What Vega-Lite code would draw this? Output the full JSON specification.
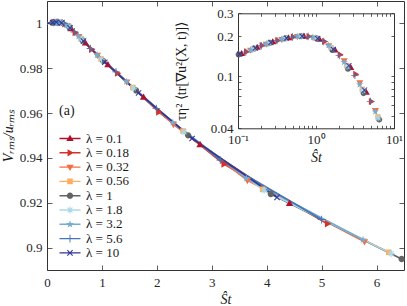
{
  "$schema": "https://vega.github.io/schema/vega-lite/v6.json",
  "width": 357,
  "height": 269,
  "autosize": "none",
  "padding": {"left": 47, "top": 1, "right": 3, "bottom": 36},
  "background": "white",
  "config": {
    "view": {"stroke": "#333333", "strokeWidth": 1},
    "font": "Liberation Serif",
    "axis": {"grid": false, "domainColor": "#333333", "tickColor": "#333333", "labelColor": "#262626", "titleColor": "#1a1a1a", "labelFont": "Liberation Serif", "titleFont": "Liberation Serif", "labelFontSize": 13, "titleFontSize": 14, "titleFontWeight": "normal", "labelFlush": false, "labelOverlap": false, "tickWidth": 0.8},
    "range": {
      "category": ["#b0102b", "#d73027", "#f46d43", "#fdae61", "#636363", "#abd9e9", "#74add1", "#4575b4", "#313695"],
      "symbol": [
        "M0,-1.1L1.05,0.7L-1.05,0.7Z",
        "M1.1,0L-0.7,1.05L-0.7,-1.05Z",
        "M0,1.1L-1.05,-0.7L1.05,-0.7Z",
        "M-0.8,-0.8H0.8V0.8H-0.8Z",
        "M-0.9,0A0.9,0.9,0,1,1,0.9,0A0.9,0.9,0,1,1,-0.9,0Z",
        "M-1,-0.15H1V0.15H-1Z M-0.15,-1H0.15V1H-0.15Z M-0.59,-0.81L0.81,0.59L0.59,0.81L-0.81,-0.59Z M-0.81,0.59L0.59,-0.81L0.81,-0.59L-0.59,0.81Z",
        "M0,-1.15L0.27,-0.37L1.09,-0.36L0.44,0.14L0.68,0.93L0,0.46L-0.68,0.93L-0.44,0.14L-1.09,-0.36L-0.27,-0.37Z",
        "M-1.1,-0.13H1.1V0.13H-1.1Z M-0.13,-1.1H0.13V1.1H-0.13Z",
        "M-0.654,-0.866L0.866,0.654L0.654,0.866L-0.866,-0.654Z M-0.866,0.654L0.654,-0.866L0.866,-0.654L-0.654,0.866Z"
      ]
    }
  },
  "datasets": {
    "d": [
      {"s": "λ = 0.1", "St": 0, "V": 1},
      {"s": "λ = 0.1", "St": 0.111, "V": 1.0004, "G": 0.148},
      {"s": "λ = 0.1", "St": 0.176, "V": 1.0005, "G": 0.165},
      {"s": "λ = 0.1", "St": 0.279, "V": 1.0002, "G": 0.182},
      {"s": "λ = 0.1", "St": 0.442, "V": 0.9976, "G": 0.195},
      {"s": "λ = 0.1", "St": 0.7, "V": 0.9912, "G": 0.2005},
      {"s": "λ = 0.1", "St": 1.109, "V": 0.9815, "G": 0.1896},
      {"s": "λ = 0.1", "St": 1.758, "V": 0.967, "G": 0.157},
      {"s": "λ = 0.1", "St": 2.786, "V": 0.9459, "G": 0.116},
      {"s": "λ = 0.1", "St": 4.416, "V": 0.9196, "G": 0.075},
      {"s": "λ = 0.18", "St": 0, "V": 1},
      {"s": "λ = 0.18", "St": 0.128, "V": 1.0004, "G": 0.1527},
      {"s": "λ = 0.18", "St": 0.203, "V": 1.0005, "G": 0.1706},
      {"s": "λ = 0.18", "St": 0.322, "V": 0.9998, "G": 0.1866},
      {"s": "λ = 0.18", "St": 0.511, "V": 0.9959, "G": 0.1982},
      {"s": "λ = 0.18", "St": 0.81, "V": 0.9884, "G": 0.1996},
      {"s": "λ = 0.18", "St": 1.282, "V": 0.9778, "G": 0.183},
      {"s": "λ = 0.18", "St": 2.032, "V": 0.9605, "G": 0.1452},
      {"s": "λ = 0.18", "St": 3.221, "V": 0.9373, "G": 0.1031},
      {"s": "λ = 0.18", "St": 5.105, "V": 0.9106, "G": 0.0639},
      {"s": "λ = 0.32", "St": 0, "V": 1},
      {"s": "λ = 0.32", "St": 0.145, "V": 1.0004, "G": 0.1576},
      {"s": "λ = 0.32", "St": 0.23, "V": 1.0004, "G": 0.175},
      {"s": "λ = 0.32", "St": 0.365, "V": 0.9991, "G": 0.1903},
      {"s": "λ = 0.32", "St": 0.578, "V": 0.9942, "G": 0.1999},
      {"s": "λ = 0.32", "St": 0.916, "V": 0.9858, "G": 0.1969},
      {"s": "λ = 0.32", "St": 1.452, "V": 0.9739, "G": 0.1706},
      {"s": "λ = 0.32", "St": 2.301, "V": 0.955, "G": 0.1308},
      {"s": "λ = 0.32", "St": 3.648, "V": 0.93, "G": 0.089},
      {"s": "λ = 0.32", "St": 5.781, "V": 0.9026, "G": 0.0549},
      {"s": "λ = 0.56", "St": 0, "V": 1},
      {"s": "λ = 0.56", "St": 0.156, "V": 1.0004, "G": 0.1605},
      {"s": "λ = 0.56", "St": 0.248, "V": 1.0003, "G": 0.1775},
      {"s": "λ = 0.56", "St": 0.393, "V": 0.9987, "G": 0.1926},
      {"s": "λ = 0.56", "St": 0.622, "V": 0.9931, "G": 0.2008},
      {"s": "λ = 0.56", "St": 0.986, "V": 0.9841, "G": 0.1953},
      {"s": "λ = 0.56", "St": 1.563, "V": 0.9714, "G": 0.1642},
      {"s": "λ = 0.56", "St": 2.477, "V": 0.952, "G": 0.1203},
      {"s": "λ = 0.56", "St": 3.926, "V": 0.926, "G": 0.0792},
      {"s": "λ = 0.56", "St": 6.223, "V": 0.8979, "G": 0.0488},
      {"s": "λ = 1", "St": 0, "V": 1},
      {"s": "λ = 1", "St": 0.102, "V": 1.0004, "G": 0.1457},
      {"s": "λ = 1", "St": 0.162, "V": 1.0005, "G": 0.1619},
      {"s": "λ = 1", "St": 0.257, "V": 1.0003, "G": 0.1788},
      {"s": "λ = 1", "St": 0.407, "V": 0.9984, "G": 0.1935},
      {"s": "λ = 1", "St": 0.646, "V": 0.9925, "G": 0.2009},
      {"s": "λ = 1", "St": 1.023, "V": 0.9833, "G": 0.1938},
      {"s": "λ = 1", "St": 1.622, "V": 0.9701, "G": 0.1575},
      {"s": "λ = 1", "St": 2.57, "V": 0.9501, "G": 0.1134},
      {"s": "λ = 1", "St": 4.074, "V": 0.9239, "G": 0.0741},
      {"s": "λ = 1", "St": 6.457, "V": 0.8949, "G": 0.0466},
      {"s": "λ = 1.8", "St": 0, "V": 1},
      {"s": "λ = 1.8", "St": 0.157, "V": 1.0004, "G": 0.1607},
      {"s": "λ = 1.8", "St": 0.249, "V": 1.0003, "G": 0.1778},
      {"s": "λ = 1.8", "St": 0.395, "V": 0.9987, "G": 0.1928},
      {"s": "λ = 1.8", "St": 0.627, "V": 0.993, "G": 0.2009},
      {"s": "λ = 1.8", "St": 0.993, "V": 0.984, "G": 0.1952},
      {"s": "λ = 1.8", "St": 1.574, "V": 0.9711, "G": 0.1636},
      {"s": "λ = 1.8", "St": 2.495, "V": 0.9516, "G": 0.1184},
      {"s": "λ = 1.8", "St": 3.954, "V": 0.9256, "G": 0.0778},
      {"s": "λ = 1.8", "St": 6.266, "V": 0.8973, "G": 0.0479},
      {"s": "λ = 3.2", "St": 0, "V": 1},
      {"s": "λ = 3.2", "St": 0.145, "V": 1.0004, "G": 0.1574},
      {"s": "λ = 3.2", "St": 0.229, "V": 1.0004, "G": 0.1748},
      {"s": "λ = 3.2", "St": 0.363, "V": 0.9992, "G": 0.1902},
      {"s": "λ = 3.2", "St": 0.575, "V": 0.9943, "G": 0.1998},
      {"s": "λ = 3.2", "St": 0.912, "V": 0.9859, "G": 0.197},
      {"s": "λ = 3.2", "St": 1.445, "V": 0.9741, "G": 0.171},
      {"s": "λ = 3.2", "St": 2.291, "V": 0.9558, "G": 0.1274},
      {"s": "λ = 3.2", "St": 3.631, "V": 0.9309, "G": 0.086},
      {"s": "λ = 3.2", "St": 5.754, "V": 0.9035, "G": 0.0536},
      {"s": "λ = 5.6", "St": 0, "V": 1},
      {"s": "λ = 5.6", "St": 0.126, "V": 1.0004, "G": 0.1519},
      {"s": "λ = 5.6", "St": 0.199, "V": 1.0005, "G": 0.1699},
      {"s": "λ = 5.6", "St": 0.316, "V": 0.9999, "G": 0.1859},
      {"s": "λ = 5.6", "St": 0.5, "V": 0.9962, "G": 0.198},
      {"s": "λ = 5.6", "St": 0.793, "V": 0.9888, "G": 0.2},
      {"s": "λ = 5.6", "St": 1.256, "V": 0.9784, "G": 0.1832},
      {"s": "λ = 5.6", "St": 1.991, "V": 0.962, "G": 0.143},
      {"s": "λ = 5.6", "St": 3.155, "V": 0.939, "G": 0.1011},
      {"s": "λ = 5.6", "St": 5.0, "V": 0.9125, "G": 0.0641},
      {"s": "λ = 10", "St": 0, "V": 1},
      {"s": "λ = 10", "St": 0.105, "V": 1.0004, "G": 0.1465},
      {"s": "λ = 10", "St": 0.167, "V": 1.0005, "G": 0.163},
      {"s": "λ = 10", "St": 0.264, "V": 1.0002, "G": 0.1798},
      {"s": "λ = 10", "St": 0.419, "V": 0.9981, "G": 0.1941},
      {"s": "λ = 10", "St": 0.664, "V": 0.9921, "G": 0.2008},
      {"s": "λ = 10", "St": 1.052, "V": 0.9827, "G": 0.1924},
      {"s": "λ = 10", "St": 1.667, "V": 0.969, "G": 0.1595},
      {"s": "λ = 10", "St": 2.642, "V": 0.9487, "G": 0.1201},
      {"s": "λ = 10", "St": 4.188, "V": 0.9224, "G": 0.0782}
    ],
    "lab": [{"x": 0.36, "y": 0.961, "t": "(a)"}]
  },
  "layer": [
    {
      "data": {"name": "d"},
      "resolve": {"axis": {"x": "independent", "y": "independent"}},
      "layer": [
        {
          "mark": {"type": "line", "strokeWidth": 1.6},
          "encoding": {
            "x": {"field": "St", "type": "quantitative", "scale": {"domain": [0, 6.5], "zero": false, "nice": false},
                  "axis": {"orient": "bottom", "values": [0, 1, 2, 3, 4, 5, 6], "format": "~g", "domain": false, "tickSize": -5, "labelPadding": 11, "title": "Ŝt", "titleFontStyle": "italic", "titlePadding": 3}},
            "y": {"field": "V", "type": "quantitative", "scale": {"domain": [0.89, 1.01], "zero": false, "nice": false},
                  "axis": {"orient": "left", "values": [0.9, 0.92, 0.94, 0.96, 0.98, 1], "format": "~g", "domain": false, "tickSize": -5, "labelPadding": 10, "title": "Vᵣₘₛ/uᵣₘₛ", "titleFontStyle": "italic", "titlePadding": 4}},
            "color": {"field": "s", "type": "nominal", "scale": {"domain": ["λ = 0.1", "λ = 0.18", "λ = 0.32", "λ = 0.56", "λ = 1", "λ = 1.8", "λ = 3.2", "λ = 5.6", "λ = 10"]}, "legend": null}
          }
        },
        {
          "transform": [{"filter": "datum.St > 0"}],
          "mark": {"type": "point", "filled": true, "opacity": 1, "size": 49, "strokeWidth": 0},
          "encoding": {
            "x": {"field": "St", "type": "quantitative", "scale": {"domain": [0, 6.5], "zero": false, "nice": false},
                  "axis": {"orient": "top", "values": [0, 1, 2, 3, 4, 5, 6], "labels": false, "domain": false, "tickSize": -5, "title": null}},
            "y": {"field": "V", "type": "quantitative", "scale": {"domain": [0.89, 1.01], "zero": false, "nice": false},
                  "axis": {"orient": "right", "values": [0.9, 0.92, 0.94, 0.96, 0.98, 1], "labels": false, "domain": false, "tickSize": -5, "title": null}},
            "color": {"field": "s", "type": "nominal", "scale": {"domain": ["λ = 0.1", "λ = 0.18", "λ = 0.32", "λ = 0.56", "λ = 1", "λ = 1.8", "λ = 3.2", "λ = 5.6", "λ = 10"]}, "legend": null},
            "shape": {"field": "s", "type": "nominal", "scale": {"domain": ["λ = 0.1", "λ = 0.18", "λ = 0.32", "λ = 0.56", "λ = 1", "λ = 1.8", "λ = 3.2", "λ = 5.6", "λ = 10"]}, "legend": null}
          }
        },
        {
          "data": {"name": "lab"},
          "mark": {"type": "text", "fontSize": 14, "font": "Liberation Serif", "color": "#1a1a1a"},
          "encoding": {
            "x": {"field": "x", "type": "quantitative", "scale": {"domain": [0, 6.5], "zero": false, "nice": false}, "axis": null},
            "y": {"field": "y", "type": "quantitative", "scale": {"domain": [0.89, 1.01], "zero": false, "nice": false}, "axis": null},
            "text": {"field": "t"}
          }
        }
      ]
    },
    {
      "data": {"name": "d"},
      "transform": [{"filter": "datum.St > 0"}],
      "resolve": {"axis": {"x": "independent", "y": "independent"}},
      "layer": [
        {
          "mark": {"type": "point", "filled": true, "opacity": 1, "size": 45, "strokeWidth": 0},
          "encoding": {
            "x": {"field": "St", "type": "quantitative", "scale": {"type": "log", "domain": [0.1, 10], "range": [191, 347], "nice": false},
                  "axis": {"orient": "bottom", "offset": -141.7, "values": [0.1, 0.2, 0.3, 0.4, 0.5, 0.6, 0.7, 0.8, 0.9, 1, 2, 3, 4, 5, 6, 7, 8, 9, 10], "labelExpr": "datum.value === 0.1 ? '10⁻¹' : datum.value === 1 ? '10⁰' : datum.value === 10 ? '10¹' : ''", "tickSize": -3, "labelPadding": 8, "title": "Ŝt", "titleFontStyle": "italic", "titlePadding": 4}},
            "y": {"field": "G", "type": "quantitative", "scale": {"type": "log", "domain": [0.04, 0.3], "range": [127.3, 12.3], "nice": false},
                  "axis": {"orient": "left", "offset": -191, "values": [0.04, 0.05, 0.06, 0.07, 0.08, 0.09, 0.1, 0.2, 0.3], "format": "~g", "labelExpr": "datum.value === 0.04 || datum.value === 0.1 || datum.value === 0.2 || datum.value === 0.3 ? datum.label : ''", "tickSize": -3, "labelPadding": 8, "title": "τη² ⟨tr[∇u²(X, t)]⟩", "titleFontSize": 14, "titlePadding": 22}},
            "color": {"field": "s", "type": "nominal", "scale": {"domain": ["λ = 0.1", "λ = 0.18", "λ = 0.32", "λ = 0.56", "λ = 1", "λ = 1.8", "λ = 3.2", "λ = 5.6", "λ = 10"]}, "legend": null},
            "shape": {"field": "s", "type": "nominal", "scale": {"domain": ["λ = 0.1", "λ = 0.18", "λ = 0.32", "λ = 0.56", "λ = 1", "λ = 1.8", "λ = 3.2", "λ = 5.6", "λ = 10"]}, "legend": null}
          }
        },
        {
          "mark": {"type": "point", "opacity": 0},
          "encoding": {
            "x": {"field": "St", "type": "quantitative", "scale": {"type": "log", "domain": [0.1, 10], "range": [191, 347], "nice": false},
                  "axis": {"orient": "top", "offset": -12.3, "values": [0.1, 0.2, 0.3, 0.4, 0.5, 0.6, 0.7, 0.8, 0.9, 1, 2, 3, 4, 5, 6, 7, 8, 9, 10], "labels": false, "tickSize": -3, "title": null}},
            "y": {"field": "G", "type": "quantitative", "scale": {"type": "log", "domain": [0.04, 0.3], "range": [127.3, 12.3], "nice": false},
                  "axis": {"orient": "right", "offset": -10, "values": [0.04, 0.05, 0.06, 0.07, 0.08, 0.09, 0.1, 0.2, 0.3], "labels": false, "tickSize": -3, "title": null}}
          }
        }
      ]
    },
    {
      "data": {"name": "d"},
      "transform": [{"filter": "datum.St < 0"}],
      "mark": {"type": "point", "filled": true, "opacity": 1},
      "encoding": {
        "fill": {"field": "s", "type": "nominal",
                 "scale": {"domain": ["λ = 0.1", "λ = 0.18", "λ = 0.32", "λ = 0.56", "λ = 1", "λ = 1.8", "λ = 3.2", "λ = 5.6", "λ = 10"], "range": ["#b0102b", "#d73027", "#f46d43", "#fdae61", "#636363", "#abd9e9", "#74add1", "#4575b4", "#313695"]},
                 "legend": {"title": null, "orient": "none", "legendX": 16.5, "legendY": 131, "symbolSize": 49, "symbolStrokeWidth": 0, "symbolOpacity": 1, "labelFont": "Liberation Serif", "labelFontSize": 13, "labelColor": "#1a1a1a", "labelOffset": 9.5, "rowPadding": 0.3, "padding": 0}},
        "shape": {"field": "s", "type": "nominal",
                  "scale": {"domain": ["λ = 0.1", "λ = 0.18", "λ = 0.32", "λ = 0.56", "λ = 1", "λ = 1.8", "λ = 3.2", "λ = 5.6", "λ = 10"],
                            "range": [
                              "M-3,-0.2H3V0.2H-3Z M0,-1.1L1.05,0.7L-1.05,0.7Z",
                              "M-3,-0.2H3V0.2H-3Z M1.1,0L-0.7,1.05L-0.7,-1.05Z",
                              "M-3,-0.2H3V0.2H-3Z M0,1.1L-1.05,-0.7L1.05,-0.7Z",
                              "M-3,-0.2H3V0.2H-3Z M-0.8,-0.8H0.8V0.8H-0.8Z",
                              "M-3,-0.2H3V0.2H-3Z M-0.9,0A0.9,0.9,0,1,1,0.9,0A0.9,0.9,0,1,1,-0.9,0Z",
                              "M-3,-0.2H3V0.2H-3Z M-1,-0.15H1V0.15H-1Z M-0.15,-1H0.15V1H-0.15Z M-0.59,-0.81L0.81,0.59L0.59,0.81L-0.81,-0.59Z M-0.81,0.59L0.59,-0.81L0.81,-0.59L-0.59,0.81Z",
                              "M-3,-0.2H3V0.2H-3Z M0,-1.15L0.27,-0.37L1.09,-0.36L0.44,0.14L0.68,0.93L0,0.46L-0.68,0.93L-0.44,0.14L-1.09,-0.36L-0.27,-0.37Z",
                              "M-3,-0.2H3V0.2H-3Z M-1.1,-0.13H1.1V0.13H-1.1Z M-0.13,-1.1H0.13V1.1H-0.13Z",
                              "M-3,-0.2H3V0.2H-3Z M-0.654,-0.866L0.866,0.654L0.654,0.866L-0.866,-0.654Z M-0.866,0.654L0.654,-0.866L0.866,-0.654L-0.654,0.866Z"
                            ]},
                  "legend": {"title": null, "orient": "none", "legendX": 16.5, "legendY": 131, "symbolSize": 49, "symbolStrokeWidth": 0, "symbolOpacity": 1, "labelFont": "Liberation Serif", "labelFontSize": 13, "labelColor": "#1a1a1a", "labelOffset": 9.5, "rowPadding": 0.3, "padding": 0}}
      }
    }
  ],
  "resolve": {"scale": {"x": "independent", "y": "independent", "shape": "independent", "fill": "independent"}}
}
